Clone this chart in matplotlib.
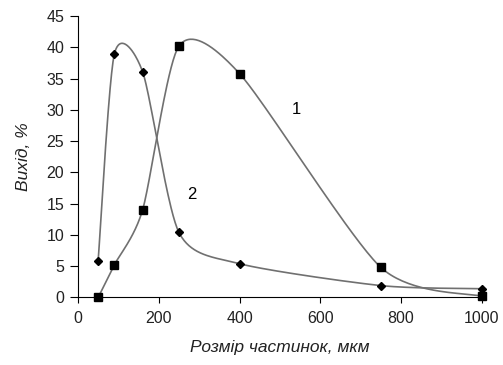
import numpy as np
import matplotlib
matplotlib.use("Agg")
import matplotlib.pyplot as plt

x = [50, 90, 160, 250, 400, 750, 1000]
y1 = [0, 5.2, 14, 40.2, 35.8, 4.8, 0.2]
y2 = [5.9, 38.9, 36.1, 10.4, 5.4, 1.9, 1.4]
xticks = [0, 200, 400, 600, 800, 1000]
yticks = [0, 5, 10, 15, 20, 25, 30, 35, 40, 45]

plt.rcParams['font.family'] = ['Liberation Sans', 'DejaVu Sans']


def smooth(xs, ys, k=1 / 8.0, n=40):
    P = np.column_stack([xs, ys]).astype(float)
    out = []
    for i in range(len(P) - 1):
        p0 = P[i - 1] if i > 0 else P[i]
        p1 = P[i]
        p2 = P[i + 1]
        p3 = P[i + 2] if i + 2 < len(P) else P[i + 1]
        c1 = p1 + (p2 - p0) * k
        c2 = p2 - (p3 - p1) * k
        t = np.linspace(0, 1, n)[:, None]
        seg = ((1 - t) ** 3) * p1 + 3 * ((1 - t) ** 2) * t * c1 + 3 * (1 - t) * t ** 2 * c2 + t ** 3 * p2
        out.append(seg if i == 0 else seg[1:])
    s = np.vstack(out)
    return s[:, 0], s[:, 1]


fig = plt.figure(figsize=(5.03, 3.65), dpi=100)
ax = fig.add_axes([0.155, 0.185, 0.803, 0.771])

for ys, mk, ms in [(y1, 's', 6), (y2, 'D', 4)]:
    sx, sy = smooth(x, ys)
    ax.plot(sx, sy, color='#707070', lw=1.2, zorder=2)
    ax.plot(x, ys, linestyle='none', marker=mk, ms=ms, color='black', zorder=3, clip_on=False)

ax.text(540, 30.1, '1', fontsize=12, ha='center', va='center')
ax.text(281, 16.4, '2', fontsize=12, ha='center', va='center')

ax.set_xlim(0, 1000)
ax.set_ylim(0, 45)
ax.set_xticks(xticks)
ax.set_yticks(yticks)
ax.tick_params(labelsize=11.5, direction='out', width=0.8, color='black', labelcolor='#222222')
ax.tick_params(axis='x', length=4, pad=6)
ax.tick_params(axis='y', length=5.5, pad=4.5)
for s in ['top', 'right']:
    ax.spines[s].set_visible(False)
for s in ['left', 'bottom']:
    ax.spines[s].set_linewidth(0.8)
ax.set_xlabel('Розмір частинок, мкм', fontsize=12.5, style='italic', labelpad=10, color='#222222')
ax.set_ylabel('Вихід, %', fontsize=12.5, style='italic', labelpad=11, color='#222222')

fig.savefig('out.png', dpi=100)
